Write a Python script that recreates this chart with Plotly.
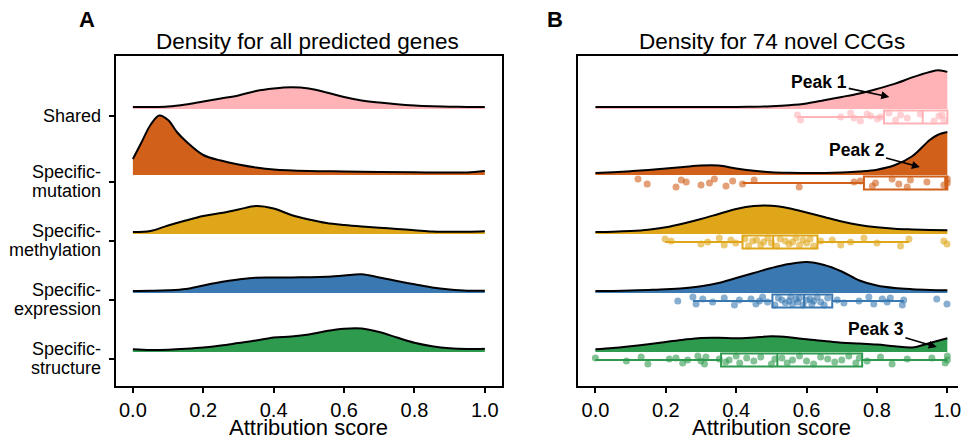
import plotly.graph_objects as go

W, H = 961, 442
FONT = "Liberation Sans, Arial, Helvetica, sans-serif"

# ---------------- data ----------------
groups = ["Shared", "Specific-mutation", "Specific-methylation",
          "Specific-expression", "Specific-structure"]
group_label_lines = [["Shared"], ["Specific-", "mutation"], ["Specific-", "methylation"],
                     ["Specific-", "expression"], ["Specific-", "structure"]]
colors = ["#FFB3B7", "#D1601A", "#E0A619", "#3978B1", "#2E9A4E"]

x_ticks = [0.0, 0.2, 0.4, 0.6, 0.8, 1.0]
x_tick_text = ["0.0", "0.2", "0.4", "0.6", "0.8", "1.0"]

grid = [0.0, 0.05, 0.1, 0.15, 0.2, 0.25, 0.3, 0.35, 0.4, 0.45, 0.5,
        0.55, 0.6, 0.65, 0.7, 0.75, 0.8, 0.85, 0.9, 0.95, 1.0]

# Panel A densities (all predicted genes), ridge heights
a_shared_h = [0, 0, 0.5, 2.5, 5.5, 8.5, 11.5, 16, 18.5, 19.7, 18.5,
              14.5, 10, 6.5, 4.3, 2.7, 1.5, 0.7, 0.2, 0, 0]
a_mut_x = [0.0, 0.025, 0.05, 0.075, 0.1, 0.125, 0.15, 0.2, 0.25, 0.3, 0.35,
           0.4, 0.5, 0.6, 0.7, 0.8, 0.9, 0.95, 1.0]
a_mut_h = [14, 31, 48, 57.5, 53, 41, 32, 18, 12.5, 8.5, 5.5,
           3.5, 2, 1.5, 1, 0.7, 0.5, 0.5, 2]
a_meth_h = [0, 1, 6.5, 11.5, 16, 19, 22.5, 26, 23.5, 17, 12.5,
            9, 7, 5.5, 4.3, 3, 1.8, 0.5, 0.3, 0.2, 0.7]
a_expr_h = [0, 0.2, 0.7, 2, 5.5, 9, 11.5, 13.3, 13.5, 13.6, 13.8,
            14.3, 15.5, 16.7, 13.5, 10, 6.7, 3.5, 1.5, 0.3, 0.3]
a_struct_h = [0.7, 0, 0.3, 1.2, 2.5, 4.5, 7, 9.5, 12.5, 13.5, 15.5,
              19, 21.3, 21.5, 18, 12.5, 7.3, 3.8, 1.7, 1, 1.3]

# Panel B densities (74 novel CCGs)
b_shared_x = [0.0, 0.1, 0.2, 0.3, 0.4, 0.45, 0.5, 0.55, 0.6, 0.65, 0.7,
              0.75, 0.8, 0.85, 0.9, 0.95, 0.975, 1.0]
b_shared_h = [0, 0, 0, 0, 0, 0.2, 0.7, 1.7, 3.5, 6.7, 10,
              13.5, 18, 23, 29.5, 35, 36.7, 35]
b_mut_x = [0.0, 0.05, 0.1, 0.15, 0.2, 0.25, 0.3, 0.35, 0.4, 0.45, 0.5,
           0.55, 0.6, 0.65, 0.7, 0.75, 0.8, 0.85, 0.9, 0.95, 0.975, 1.0]
b_mut_h = [0, 0.8, 1.8, 3, 4.5, 6, 7.5, 7.5, 4.5, 2.3, 0.8,
           0.2, 0, 0, 0.5, 1.5, 3.3, 7.7, 16.7, 33, 38.5, 41]
b_meth_h = [0, 0.3, 1, 2.3, 4.7, 8.5, 13, 18, 23, 26, 26.3,
            23.8, 19.5, 15, 10.5, 7, 4.7, 3.2, 2.5, 2, 1.7]
b_expr_h = [0, 0.1, 0.4, 1, 1.7, 2.8, 4.7, 8, 13, 18, 23,
            27, 29, 26, 19.5, 10.5, 5.5, 3, 1.8, 1.1, 0.7]
b_struct_h = [0.7, 2, 3.8, 5.8, 8, 10.3, 12.1, 12.3, 11.7, 12.5, 13.7,
              12.8, 10.7, 9, 7.3, 6.5, 5.5, 3.8, 2.5, 7, 11.7]

# Panel B per-gene scores (jittered points)
sh_pts = [0.574, 0.583, 0.697, 0.725, 0.735, 0.753, 0.772, 0.782, 0.801, 0.810,
          0.834, 0.853, 0.867, 0.886, 0.923, 0.962, 0.976, 0.985, 0.99]
mu_pts = [0.121, 0.147, 0.229, 0.244, 0.258, 0.300, 0.324, 0.338, 0.371, 0.390,
          0.418, 0.451, 0.579, 0.735, 0.753, 0.787, 0.796, 0.843, 0.862, 0.886,
          0.895, 0.942, 0.99, 1.0, 1.0]
me_pts = [0.198, 0.215, 0.300, 0.319, 0.352, 0.366, 0.385, 0.399, 0.425, 0.435,
          0.447, 0.458, 0.47, 0.478, 0.49, 0.50, 0.515, 0.525, 0.54, 0.55,
          0.56, 0.57, 0.58, 0.59, 0.60, 0.61, 0.62, 0.64, 0.673, 0.697,
          0.725, 0.763, 0.80, 0.867, 0.891, 0.99, 0.999]
ex_pts = [0.234, 0.277, 0.286, 0.305, 0.333, 0.366, 0.395, 0.409, 0.442, 0.456,
          0.466, 0.475, 0.489, 0.51, 0.52, 0.53, 0.54, 0.55, 0.555, 0.56,
          0.57, 0.575, 0.58, 0.59, 0.60, 0.61, 0.615, 0.62, 0.63, 0.64,
          0.65, 0.66, 0.687, 0.706, 0.749, 0.777, 0.791, 0.815, 0.829, 0.838,
          0.872, 0.876, 0.97, 0.999]
st_pts = [0.0, 0.088, 0.13, 0.149, 0.21, 0.229, 0.248, 0.262, 0.291, 0.30,
          0.31, 0.314, 0.352, 0.37, 0.38, 0.40, 0.41, 0.43, 0.45, 0.47,
          0.50, 0.51, 0.53, 0.545, 0.56, 0.58, 0.60, 0.62, 0.64, 0.66,
          0.68, 0.70, 0.72, 0.74, 0.75, 0.772, 0.81, 0.843, 0.886, 0.956,
          0.994, 1.0, 1.0]

# Box statistics: lower whisker, q1, median, q3, upper whisker
box_lower = [0.574, 0.418, 0.198, 0.277, 0.0]
box_q1 = [0.82, 0.763, 0.418, 0.503, 0.357]
box_median = [0.93, 0.995, 0.505, 0.593, 0.517]
box_q3 = [1.0, 1.0, 0.631, 0.673, 0.758]
box_upper = [1.0, 1.0, 0.891, 0.876, 1.0]

peak_labels = ["Peak 1", "Peak 2", "Peak 3"]

# ---------------- layout helpers ----------------
row_base = [5.12, 4.0, 3.0, 2.0, 1.0]   # ridge baselines (row units)
box_off = 0.17
ridge_scale = 1 / 59.0                   # height units -> row units
jitter_cycle = [2, -3, 0, 4, -1, -4, 3, 1, -2, 0, 4, -3, 2, -1, 3, -4, 1]
Y_RANGE = [0.39, 5.988]


def px_x(p):
    return p / W


def px_y(p):
    return 1 - p / H


fig = go.Figure()


def add_ridge(xs, hs, base, color, xa, ya):
    fig.add_trace(go.Scatter(x=[0, 1], y=[base - 0.035, base - 0.035], mode="lines",
                             line=dict(width=0, color=color), xaxis=xa, yaxis=ya,
                             hoverinfo="skip", showlegend=False))
    fig.add_trace(go.Scatter(x=xs, y=[base + h * ridge_scale for h in hs], mode="lines",
                             line=dict(color="black", width=2, shape="spline", smoothing=1.0),
                             fill="tonexty", fillcolor=color, xaxis=xa, yaxis=ya,
                             hoverinfo="skip", showlegend=False))


dens_a = [(grid, a_shared_h), (a_mut_x, a_mut_h), (grid, a_meth_h),
          (grid, a_expr_h), (grid, a_struct_h)]
dens_b = [(b_shared_x, b_shared_h), (b_mut_x, b_mut_h), (grid, b_meth_h),
          (grid, b_expr_h), (grid, b_struct_h)]
pts_b = [sh_pts, mu_pts, me_pts, ex_pts, st_pts]

for i in range(len(groups)):
    add_ridge(dens_a[i][0], dens_a[i][1], row_base[i], colors[i], "x", "y")
    add_ridge(dens_b[i][0], dens_b[i][1], row_base[i], colors[i], "x2", "y2")

for i in range(len(groups)):
    yc = row_base[i] - box_off
    ys = [yc + jitter_cycle[(k + 3 * i) % len(jitter_cycle)] * ridge_scale
          for k in range(len(pts_b[i]))]
    fig.add_trace(go.Scatter(x=pts_b[i], y=ys, mode="markers",
                             marker=dict(size=7, color=colors[i], opacity=0.6),
                             xaxis="x2", yaxis="y2", hoverinfo="skip", showlegend=False))
    fig.add_trace(go.Box(y=[yc], q1=[box_q1[i]], median=[box_median[i]], q3=[box_q3[i]],
                         lowerfence=[box_lower[i]], upperfence=[box_upper[i]],
                         orientation="h", width=0.22, whiskerwidth=0,
                         line=dict(color=colors[i], width=2),
                         fillcolor="rgba(255,255,255,0.45)", boxpoints=False,
                         xaxis="x2", yaxis="y2", hoverinfo="skip", showlegend=False))

ydom = [px_y(386), px_y(55.7)]
axis_common = dict(showline=True, linecolor="black", linewidth=1.5, showgrid=False,
                   zeroline=False, ticks="outside", ticklen=5, tickwidth=1.5,
                   tickcolor="black", tickvals=x_ticks, ticktext=x_tick_text,
                   ticklabeloverflow="allow",
                   tickfont=dict(family=FONT, size=20, color="black"))
fig.update_layout(
    width=W, height=H, margin=dict(l=0, r=0, t=0, b=0),
    paper_bgcolor="white", plot_bgcolor="white", showlegend=False,
    boxmode="overlay",
    xaxis=dict(domain=[px_x(116), px_x(504)], range=[-0.049, 1.05], mirror=True,
               anchor="y", **axis_common),
    xaxis2=dict(domain=[px_x(580), 1.0], range=[-0.049, (W - 597.3) / 353.0],
                mirror=True, anchor="y2", **axis_common),
    yaxis=dict(domain=ydom, range=Y_RANGE, showline=True, linecolor="black",
               linewidth=1.5, mirror=True, showgrid=False, zeroline=False,
               ticks="outside", ticklen=5, tickwidth=1.5, tickcolor="black",
               tickvals=[b - 0.16 for b in row_base], showticklabels=False, anchor="x"),
    yaxis2=dict(domain=ydom, range=Y_RANGE, showline=True, linecolor="black",
                linewidth=1.5, mirror=False, showgrid=False, zeroline=False,
                showticklabels=False, ticks="", anchor="x2"),
)

ann = []
# panel letters and titles
ann.append(dict(text="<b>A</b>", x=px_x(87), y=px_y(20), font=dict(size=22)))
ann.append(dict(text="<b>B</b>", x=px_x(557), y=px_y(20), font=dict(size=22)))
ann.append(dict(text="Density for all predicted genes", x=px_x(308), y=px_y(41), font=dict(size=22.5)))
ann.append(dict(text="Density for 74 novel CCGs", x=px_x(774), y=px_y(41), font=dict(size=22.5)))
for a in ann:
    a.update(xref="paper", yref="paper", showarrow=False, xanchor="center", yanchor="middle")
    a["font"].update(family=FONT, color="black")

# axis titles, anchored to the bottom edge
for cx in (309, 774):
    ann.append(dict(text="Attribution score", x=px_x(cx), y=0.0, xref="paper", yref="paper",
                    showarrow=False, xanchor="center", yanchor="bottom",
                    font=dict(family=FONT, size=22, color="black")))

# category labels (panel A)
for i, lines in enumerate(group_label_lines):
    tick_py = 350 - (row_base[i] - 0.16 - 1) * 59
    offs = [0] if len(lines) == 1 else [-10.5, 9.0]
    for line, o in zip(lines, offs):
        ann.append(dict(text=line, x=px_x(103), y=px_y(tick_py + o), xref="paper",
                        yref="paper", showarrow=False, xanchor="right", yanchor="middle",
                        font=dict(family=FONT, size=18, color="black")))

# peak annotations (panel B)
peak_text_pos = [(0.636, 5.54), (0.742, 4.39), (0.797, 1.356)]
peak_head_pos = [(0.835, 5.29), (0.922, 4.10), (0.970, 1.05)]
for lab, (tx, ty), (hx, hy) in zip(peak_labels, peak_text_pos, peak_head_pos):
    ann.append(dict(text="<b>%s</b>" % lab, x=hx, y=hy, ax=tx, ay=ty, xref="x2", yref="y2",
                    axref="x2", ayref="y2", showarrow=True, arrowhead=2, arrowsize=1,
                    arrowwidth=1.6, arrowcolor="black", standoff=0,
                    font=dict(family=FONT, size=17.5, color="black")))

fig.update_layout(annotations=ann)
fig.write_html("out.html", config={"displayModeBar": False},
               post_script="document.body.style.margin='0';document.body.style.padding='0';"
                           "document.body.style.overflow='hidden';")
